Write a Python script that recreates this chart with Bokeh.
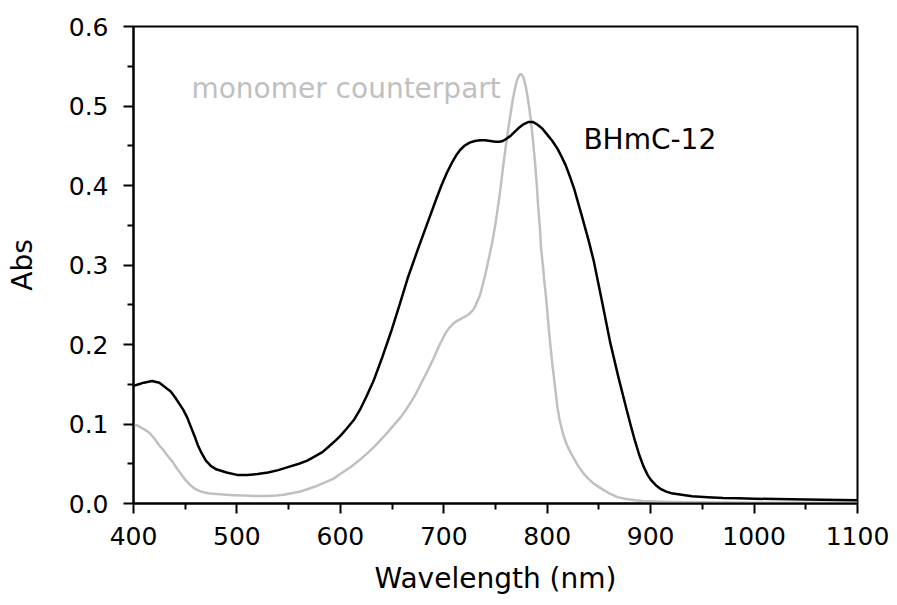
from bokeh.plotting import figure
from bokeh.models import Range1d, FixedTicker, PrintfTickFormatter, Label
from bokeh.embed import file_html
from bokeh.resources import INLINE

# BHmC-12 spectrum
wl_b = [400, 405, 410, 418, 425, 430, 436, 440, 445, 448, 452, 455, 459, 462, 466, 470,
        475, 480, 490, 500, 510, 520, 530, 540, 550, 560, 568, 575, 583, 590, 596, 600,
        606, 613, 619, 625, 632, 640, 649, 657, 665, 675, 684, 693, 698, 703, 708, 712,
        716, 720, 725, 730, 735, 740, 745, 750, 754, 757, 761, 765, 769, 773, 777, 782,
        786, 790, 795, 800, 805, 810, 814, 818, 822, 826, 833, 840, 845, 853, 861, 869,
        877, 881, 885, 889, 893, 897, 900, 905, 910, 915, 920, 930, 940, 955, 970, 985,
        1000, 1050, 1100]
abs_b = [0.148, 0.150, 0.152, 0.154, 0.152, 0.147, 0.141, 0.134, 0.124, 0.118, 0.108,
         0.098, 0.085, 0.074, 0.063, 0.054, 0.047, 0.043, 0.039, 0.036, 0.036, 0.037,
         0.039, 0.042, 0.046, 0.050, 0.054, 0.059, 0.065, 0.073, 0.080, 0.085, 0.094,
         0.105, 0.118, 0.134, 0.154, 0.182, 0.216, 0.249, 0.283, 0.320, 0.352, 0.384,
         0.401, 0.416, 0.429, 0.438, 0.445, 0.450, 0.454, 0.456, 0.457, 0.457, 0.456,
         0.455, 0.455, 0.456, 0.459, 0.463, 0.468, 0.473, 0.477, 0.480, 0.480, 0.477,
         0.472, 0.464, 0.456, 0.446, 0.436, 0.425, 0.411, 0.396, 0.364, 0.331, 0.305,
         0.254, 0.202, 0.158, 0.117, 0.097, 0.078, 0.061, 0.047, 0.036, 0.030, 0.023,
         0.018, 0.015, 0.013, 0.011, 0.009, 0.008, 0.007, 0.0065, 0.006, 0.005, 0.004]

# monomer counterpart spectrum
wl_m = [400, 404, 408, 412, 416, 420, 425, 429, 433, 438, 442, 446, 450, 455, 460, 465,
        472, 480, 490, 497, 507, 515, 523, 530, 538, 545, 553, 561, 568, 575, 584, 593,
        601, 610, 618, 626, 634, 642, 650, 658, 663, 668, 673, 678, 684, 690, 695, 700,
        703, 706, 709, 712, 716, 719, 722, 725, 728, 730, 732, 735, 737, 740, 742, 745,
        747, 750, 752, 755, 757, 760, 762, 765, 767, 769, 771, 773, 774, 775, 777, 779,
        781, 783, 784, 786, 788, 790, 791, 793, 794, 796, 797, 799, 800, 803, 805, 808,
        810, 812, 815, 818, 820, 823, 826, 830, 835, 840, 845, 852, 861, 868, 875, 885,
        893, 905, 920, 950, 1000, 1050, 1100]
abs_m = [0.099, 0.098, 0.095, 0.092, 0.088, 0.082, 0.073, 0.067, 0.060, 0.052, 0.044,
         0.037, 0.030, 0.023, 0.018, 0.015, 0.013, 0.012, 0.011, 0.0105, 0.010, 0.0095,
         0.0093, 0.0095, 0.010, 0.011, 0.013, 0.015, 0.018, 0.021, 0.026, 0.031, 0.038,
         0.046, 0.054, 0.063, 0.073, 0.084, 0.096, 0.108, 0.117, 0.127, 0.138, 0.151,
         0.166, 0.182, 0.197, 0.210, 0.217, 0.222, 0.226, 0.229, 0.232, 0.234, 0.236,
         0.239, 0.243, 0.247, 0.253, 0.262, 0.272, 0.287, 0.299, 0.317, 0.330, 0.352,
         0.370, 0.398, 0.420, 0.450, 0.468, 0.494, 0.510, 0.523, 0.533, 0.539, 0.540,
         0.540, 0.536, 0.526, 0.512, 0.494, 0.484, 0.460, 0.432, 0.400, 0.378, 0.345,
         0.322, 0.297, 0.282, 0.258, 0.242, 0.200, 0.175, 0.142, 0.120, 0.105, 0.089,
         0.077, 0.071, 0.063, 0.056, 0.047, 0.038, 0.031, 0.025, 0.019, 0.012, 0.008,
         0.006, 0.004, 0.003, 0.0025, 0.002, 0.0015, 0.001, 0.001, 0.001]

x_ticks = [400, 500, 600, 700, 800, 900, 1000, 1100]
x_minor = [450, 550, 650, 750, 850, 950, 1050]
y_ticks = [0.0, 0.1, 0.2, 0.3, 0.4, 0.5, 0.6]
y_minor = [0.05, 0.15, 0.25, 0.35, 0.45, 0.55]

x_label = "Wavelength (nm)"
y_label = "Abs"
label_b = ("BHmC-12", 835, 0.458)
label_m = ("monomer counterpart", 456, 0.522)

BLACK = "#000000"
GRAY = "#c0c0c0"
FONT = "DejaVu Sans"

p = figure(width=889, height=597, output_backend="svg", toolbar_location=None,
           x_range=Range1d(400, 1100), y_range=Range1d(0, 0.6),
           min_border_left=133, min_border_right=32, min_border_top=26, min_border_bottom=85)

p.grid.visible = False
p.outline_line_color = BLACK
p.outline_line_width = 2
p.background_fill_color = "white"
p.border_fill_color = "white"

p.line(wl_m, abs_m, line_color=GRAY, line_width=2.5, line_join="round")
p.line(wl_b, abs_b, line_color=BLACK, line_width=2.5, line_join="round")

p.xaxis.ticker = FixedTicker(ticks=x_ticks, minor_ticks=x_minor)
p.yaxis.ticker = FixedTicker(ticks=y_ticks, minor_ticks=y_minor)
p.yaxis.formatter = PrintfTickFormatter(format="%.1f")

for ax in (p.xaxis[0], p.yaxis[0]):
    ax.axis_line_width = 2
    ax.axis_line_color = BLACK
    ax.major_tick_line_width = 2
    ax.minor_tick_line_width = 2
    ax.major_tick_in = 0
    ax.major_tick_out = 10
    ax.minor_tick_in = 0
    ax.minor_tick_out = 6
    ax.major_label_text_font = FONT
    ax.major_label_text_font_size = "25px"
    ax.major_label_text_color = BLACK
    ax.axis_label_text_font = FONT
    ax.axis_label_text_font_size = "28px"
    ax.axis_label_text_font_style = "normal"
    ax.axis_label_text_color = BLACK

p.xaxis.axis_label = x_label
p.yaxis.axis_label = y_label
p.xaxis.major_label_standoff = 13
p.xaxis.axis_label_standoff = 14
p.yaxis.major_label_standoff = 15
p.yaxis.axis_label_standoff = 27

p.add_layout(Label(x=label_m[1], y=label_m[2], text=label_m[0], text_font=FONT,
                   text_font_size="28px", text_color=GRAY, text_align="left",
                   text_baseline="alphabetic"))
p.add_layout(Label(x=label_b[1], y=label_b[2], text=label_b[0], text_font=FONT,
                   text_font_size="28px", text_color=BLACK, text_align="left",
                   text_baseline="alphabetic"))

open("out.html", "w").write(file_html(p, INLINE))
